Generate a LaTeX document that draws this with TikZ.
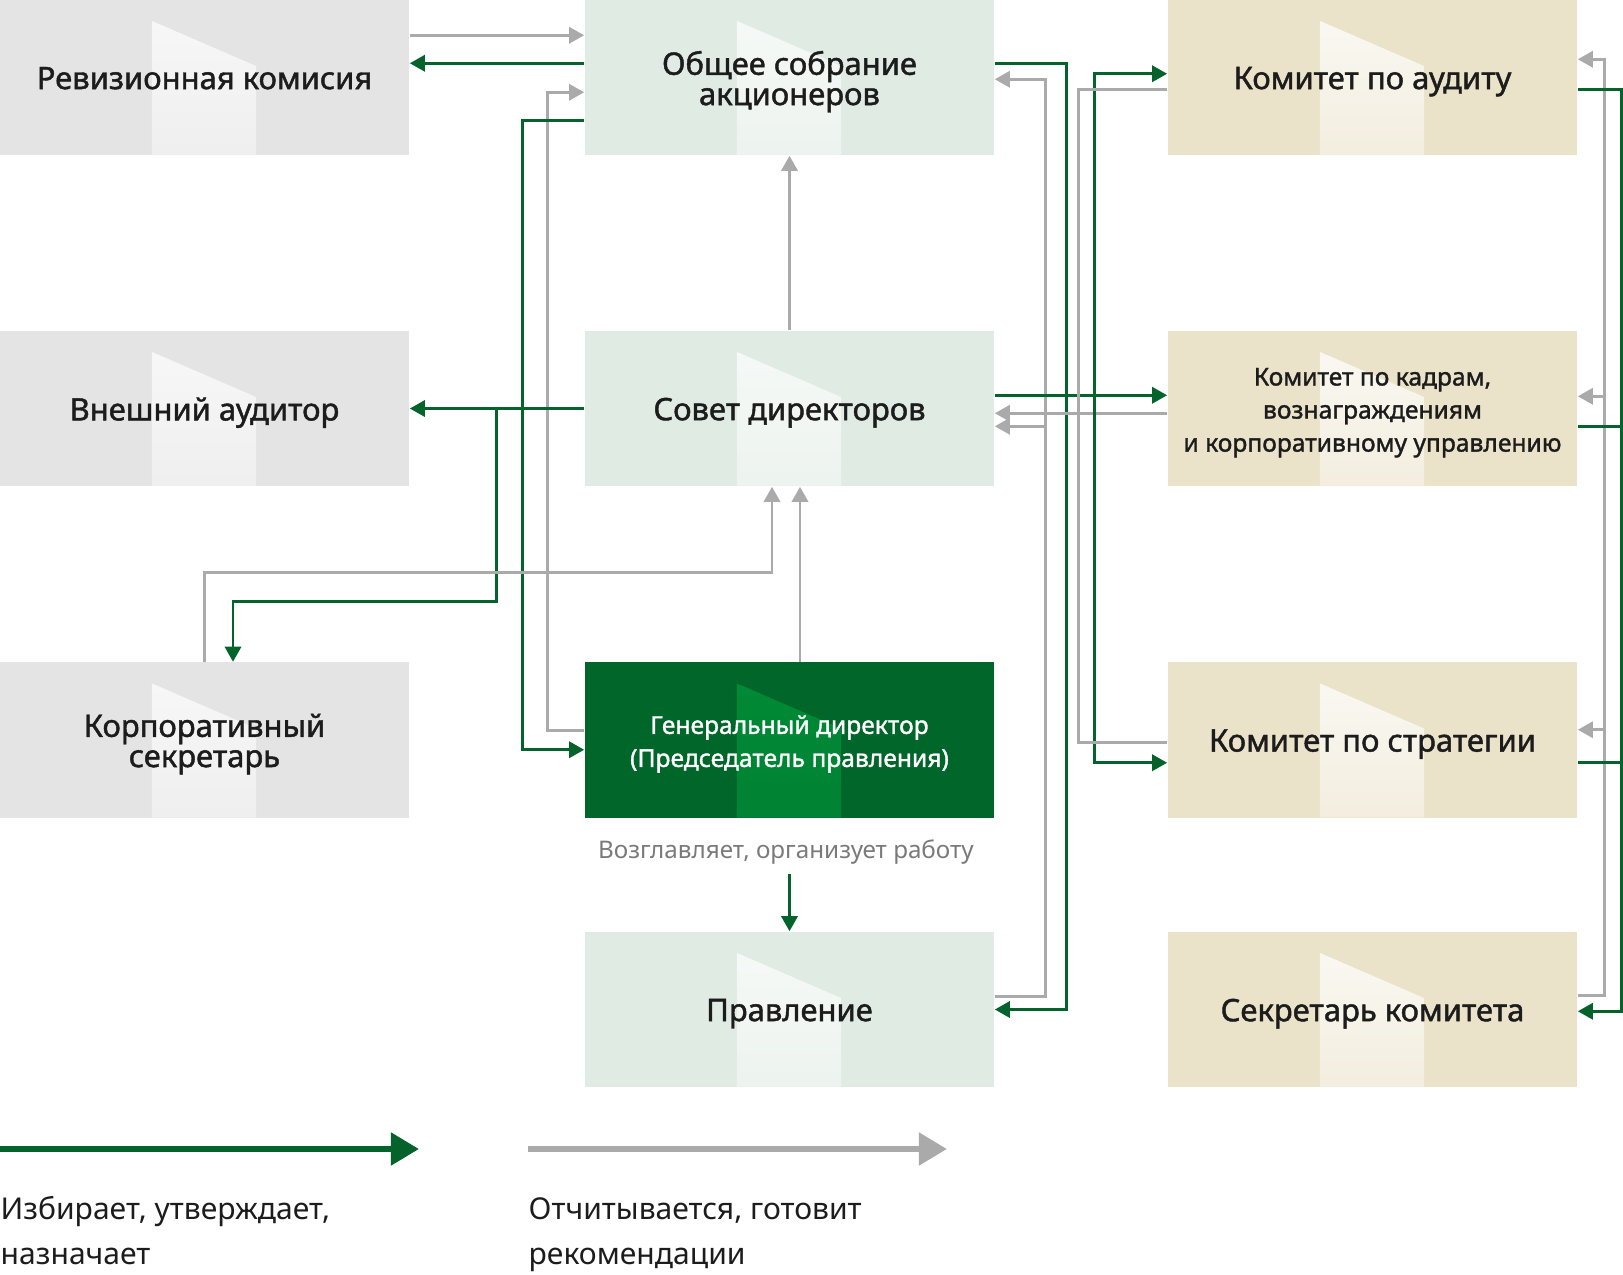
\documentclass[tikz,border=0pt]{standalone}
\usepackage{fontspec}
\setmainfont{Noto Sans}
\newfontfamily\unitfont{Noto Sans}[FakeBold=1.4]
\usetikzlibrary{arrows.meta,calc,positioning}

\definecolor{unitgrey}{HTML}{E4E4E4}
\definecolor{unitmint}{HTML}{E0EBE3}
\definecolor{unitsand}{HTML}{EAE2C9}
\definecolor{unitdark}{HTML}{00662A}
\definecolor{shinedark}{HTML}{008A36}
\definecolor{linegreen}{HTML}{03632B}
\definecolor{linegrey}{HTML}{AAAAAA}
\definecolor{inkdark}{HTML}{1C1C1C}
\definecolor{inkgrey}{HTML}{7A7A7A}

\begin{document}
\begin{tikzpicture}[x=0.01cm, y=-0.01cm,
    orgbox/.style 2 args={minimum width=4.09cm, minimum height=1.55cm,
                 inner sep=0pt,
                 path picture={
                   \shade[top color=#1, bottom color=#2]
                     ($(path picture bounding box.north west)+(1.52cm,-0.21cm)$)
                     -- ($(path picture bounding box.north west)+(2.56cm,-0.66cm)$)
                     -- ($(path picture bounding box.south west)+(2.56cm,0)$)
                     -- ($(path picture bounding box.south west)+(1.52cm,0)$) -- cycle;}},
    greybox/.style={orgbox={unitgrey!25!white}{unitgrey!60!white}, fill=unitgrey},
    mintbox/.style={orgbox={unitmint!25!white}{unitmint!60!white}, fill=unitmint},
    sandbox/.style={orgbox={unitsand!20!white}{unitsand!60!white}, fill=unitsand},
    headbox/.style={orgbox={shinedark}{shinedark!80!unitdark}, fill=unitdark},
    boxtext/.style={align=center, inner sep=0pt, text=inkdark, yshift=-1.2pt,
                    font=\unitfont\fontsize{8.8}{8.6}\selectfont},
    smalltext/.style={boxtext, font=\unitfont\fontsize{7}{9.4}\selectfont},
    headtext/.style={smalltext, text=white},
    tips/.style={-{Triangle[length=4.3pt,width=4.6pt]}},
    electline/.style={draw=linegreen, line width=0.85pt},
    reportline/.style={draw=linegrey, line width=0.85pt},
    elect/.style={electline, tips},
    report/.style={reportline, tips},
    keytips/.style={-{Triangle[length=8pt,width=9pt]}},
    keytext/.style={inner sep=0pt, align=left, anchor=west, text=inkdark,
                    font=\fontsize{8.55}{12.9}\selectfont},
  ]
  \useasboundingbox (0,0) rectangle (1623,1275);

  % boxes
  \node[greybox, label={[boxtext, text depth=2.1pt]center:Ревизионная комисия}] (rev) at (204.5,77.5) {};
  \node[mintbox, label={[boxtext]center:Общее собрание\\акционеров}] (gm) at (789.5,77.5) {};
  \node[sandbox, label={[boxtext]center:Комитет по аудиту}] (audc) at (1372.5,77.5) {};
  \node[greybox, label={[boxtext]center:Внешний аудитор}] (ext) at (204.5,408.5) {};
  \node[mintbox, label={[boxtext]center:Совет директоров}] (sd) at (789.5,408.5) {};
  \node[sandbox, label={[smalltext]center:Комитет по кадрам,\\вознаграждениям\\и корпоративному управлению}]
    (hrc) at (1372.5,408.5) {};
  \node[greybox, label={[boxtext]center:Корпоративный\\секретарь}] (csec) at (204.5,740) {};
  \node[headbox, label={[headtext]center:Генеральный директор\\(Председатель правления)}]
    (ceo) at (789.5,740) {};
  \node[sandbox, label={[boxtext]center:Комитет по стратегии}] (stc) at (1372.5,740) {};
  \node[mintbox, label={[boxtext]center:Правление}] (board) at (789.5,1009.5) {};
  \node[sandbox, label={[boxtext]center:Секретарь комитета}] (csc) at (1372.5,1009.5) {};

  \node[inner sep=0pt, text=inkgrey, font=\fontsize{6.9}{8}\selectfont]
    (lead) at ($(ceo.south)+(-3.5,33.5)$) {Возглавляет, организует работу};

  % left and centre
  \draw[report] ($(rev.north east)+(0,36)$) -- ($(gm.north west)+(0,36)$);
  \draw[elect]  ($(gm.north west)+(0,64)$) -- ($(rev.north east)+(0,64)$);
  \draw[report] ($(ceo.north west)+(0,69)$) -- ++(-36.5,0) |- ($(gm.north west)+(0,93)$);
  \draw[elect]  ($(gm.north west)+(0,121)$) -- ++(-62,0) |- ($(ceo.north west)+(0,88)$);
  \draw[report] (sd.north) -- (gm.south);
  \draw[elect]  (sd.west) -- (ext.east);
  \draw[elect]  ($(sd.west)+(-88,0)$) -- ++(0,192.5) -| ($(csec.north)+(28.5,0)$);
  \draw[report] (csec.north) -- ++(0,-89) -| ($(sd.south)+(-17.5,0)$);
  \draw[report] ($(ceo.north)+(10.5,0)$) -- ($(sd.south)+(10.5,0)$);
  \draw[elect]  ($(lead.south -| board.north)+(0,9)$) -- (board.north);

  % centre to committees
  \draw[elect]  ($(gm.north east)+(0,64)$) -- ++(72,0) |- (board.east);
  \draw[report] ($(board.north east)+(0,65)$) -- ++(51,0) |- ($(gm.north east)+(0,80)$);
  \draw[report] ($(sd.north east)+(51,96)$) -- ($(sd.north east)+(0,96)$);
  \draw[elect]  ($(sd.north east)+(0,65)$) -- ($(hrc.north west)+(0,65)$);
  \draw[report] ($(hrc.north west)+(0,83)$) -- ($(sd.north east)+(0,83)$);
  \draw[elect]  ($(hrc.north west)+(-73,65)$) |- ($(audc.north west)+(0,74.5)$);
  \draw[elect]  ($(hrc.north west)+(-73,65)$) |- ($(stc.north west)+(0,101)$);
  \draw[reportline] ($(audc.north west)+(0,90)$) -- ++(-88.5,0) |- ($(stc.north west)+(0,81)$);

  % committees and their secretary
  \draw[report] ($(csc.north east)+(0,64)$) -- ++(27,0) |- ($(audc.north east)+(0,60)$);
  \draw[report] ($(hrc.north east)+(27,66)$) -- ($(hrc.north east)+(0,66)$);
  \draw[report] ($(stc.north east)+(27,68)$) -- ($(stc.north east)+(0,68)$);
  \draw[elect]  ($(audc.north east)+(0,90)$) -- ++(44,0) |- ($(csc.north east)+(0,80)$);
  \draw[electline] ($(hrc.north east)+(0,96)$) -- ++(44,0);
  \draw[electline] ($(stc.north east)+(0,101)$) -- ++(44,0);

  % key
  \coordinate (keyA0) at (0,1149);
  \coordinate (keyA1) at (419,1149);
  \coordinate (keyB0) at (528,1149);
  \coordinate (keyB1) at (947,1149);
  \draw[draw=linegreen, line width=1.8pt, keytips, fill=linegreen] (keyA0) -- (keyA1);
  \draw[draw=linegrey, line width=1.8pt, keytips, fill=linegrey] (keyB0) -- (keyB1);
  \node[keytext] (keyAtext) at (0,1230.5) {Избирает, утверждает,\\назначает};
  \node[keytext] (keyBtext) at (528,1234.5) {Отчитывается, готовит\\рекомендации};
\end{tikzpicture}
\end{document}
